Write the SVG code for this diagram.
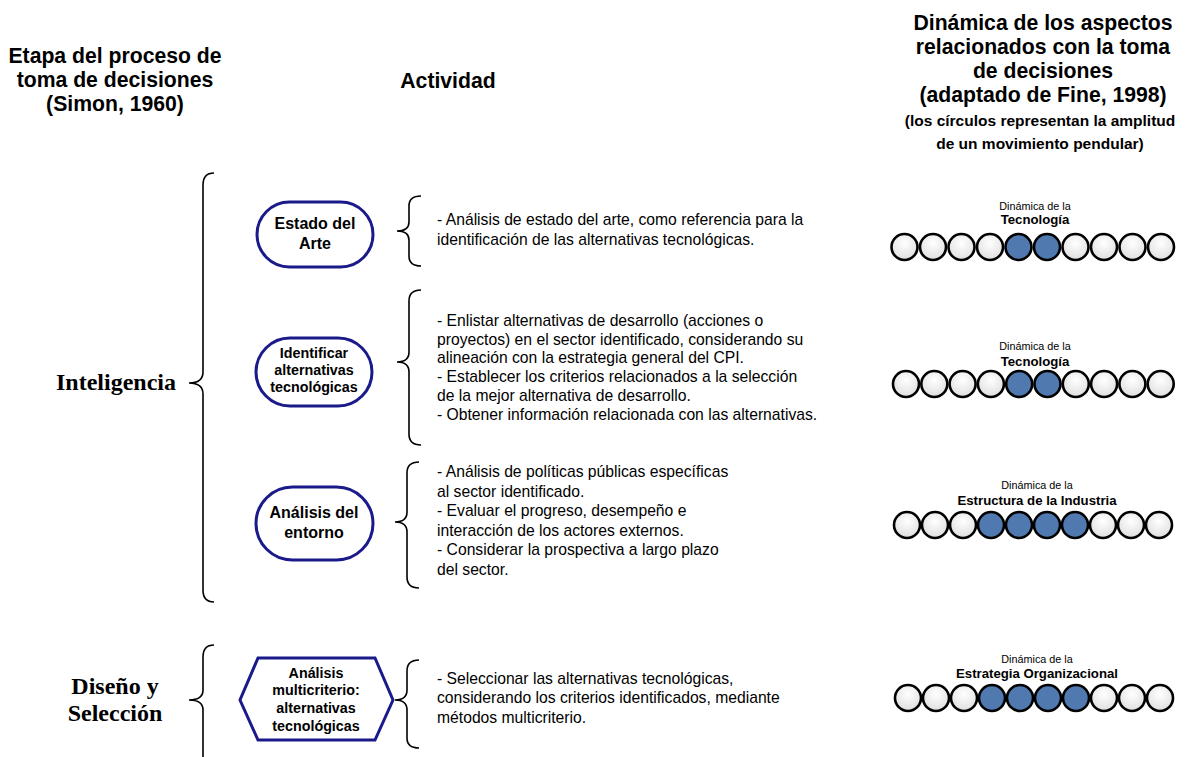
<svg xmlns="http://www.w3.org/2000/svg" width="1187" height="757" viewBox="0 0 1187 757">
<style>
.hdr{font-family:"Liberation Sans",Arial,sans-serif;font-weight:bold;font-size:21.2px;text-anchor:middle;fill:#000}
.hdr2{font-family:"Liberation Sans",Arial,sans-serif;font-weight:bold;font-size:15.5px;text-anchor:middle;fill:#000}
.stage{font-family:"Liberation Serif","Times New Roman",serif;font-weight:bold;font-size:24px;text-anchor:middle;fill:#000}
.nt{font-family:"Liberation Sans",Arial,sans-serif;font-weight:bold;font-size:16px;text-anchor:middle;fill:#000}
.nts{font-family:"Liberation Sans",Arial,sans-serif;font-weight:bold;font-size:14.3px;text-anchor:middle;fill:#000}
.act{font-family:"Liberation Sans",Arial,sans-serif;font-size:15.7px;fill:#000}
.dl{font-family:"Liberation Sans",Arial,sans-serif;font-size:10.8px;text-anchor:middle;fill:#000}
.db{font-family:"Liberation Sans",Arial,sans-serif;font-weight:bold;font-size:13.2px;text-anchor:middle;fill:#000}
.node{fill:#fff;stroke:#1a1a8a;stroke-width:3}
.brace{fill:none;stroke:#000;stroke-width:1.6}
.c{fill:url(#g);stroke:#000;stroke-width:2.6}
.f{fill:#5079b0;stroke:#000;stroke-width:2.6}
</style>
<defs>
<radialGradient id="g" cx="0.5" cy="0.35" r="0.7">
<stop offset="0" stop-color="#ffffff"/>
<stop offset="1" stop-color="#dcdcdc"/>
</radialGradient>
</defs>
<rect width="1187" height="757" fill="#fff"/>

<g id="headers">
<text class="hdr" x="115" y="63">Etapa del proceso de</text>
<text class="hdr" x="115" y="87">toma de decisiones</text>
<text class="hdr" x="115" y="111">(Simon, 1960)</text>
<text class="hdr" x="448" y="88">Actividad</text>
<text class="hdr" x="1043" y="30">Dinámica de los aspectos</text>
<text class="hdr" x="1043" y="54">relacionados con la toma</text>
<text class="hdr" x="1043" y="78">de decisiones</text>
<text class="hdr" x="1043" y="102">(adaptado de Fine, 1998)</text>
<text class="hdr2" x="1040" y="126">(los círculos representan la amplitud</text>
<text class="hdr2" x="1040" y="149">de un movimiento pendular)</text>
</g>

<g id="stage-inteligencia">
<text class="stage" x="116" y="390">Inteligencia</text>
</g>
<g id="stage-diseno">
<text class="stage" x="115" y="694">Diseño y</text>
<text class="stage" x="115" y="721">Selección</text>
</g>

<g id="connectors">
<path class="brace" d="M214,173 Q203,173 203,185 L203,372 Q203,383 189,383 Q203,383 203,394 L203,590 Q203,602 214,602"/>
<path class="brace" d="M214,645 Q203,645 203,657 L203,690 Q203,700 189,700 Q203,700 203,710 L203,757"/>
<path class="brace" d="M421,196 Q409,196 409,206 L409,222 Q409,231 397,231 Q409,231 409,240 L409,256 Q409,266 421,266"/>
<path class="brace" d="M421,290 Q409,290 409,301 L409,352 Q409,362 397,362 Q409,362 409,372 L409,434 Q409,445 421,445"/>
<path class="brace" d="M419,462 Q407,462 407,473 L407,512 Q407,522 395,522 Q407,522 407,532 L407,577 Q407,588 419,588"/>
<path class="brace" d="M419,660 Q407,660 407,671 L407,690 Q407,700 395,700 Q407,700 407,710 L407,738 Q407,748 419,748"/>
</g>

<g id="node-estado">
<rect class="node" x="257" y="202" width="116" height="65" rx="32.5"/>
<text class="nt" x="315" y="229">Estado del</text>
<text class="nt" x="315" y="249">Arte</text>
</g>
<g id="node-identificar">
<rect class="node" x="256" y="338" width="116" height="68" rx="34"/>
<text class="nts" x="314" y="358">Identificar</text>
<text class="nts" x="314" y="375">alternativas</text>
<text class="nts" x="314" y="392">tecnológicas</text>
</g>
<g id="node-entorno">
<rect class="node" x="256" y="487" width="117" height="73" rx="36.5"/>
<text class="nt" x="314" y="518">Análisis del</text>
<text class="nt" x="314" y="538">entorno</text>
</g>
<g id="node-multicriterio">
<polygon class="node" points="258,658 375,658 393,700 375,740 258,740 240,700"/>
<text class="nts" x="316" y="678">Análisis</text>
<text class="nts" x="316" y="695">multicriterio:</text>
<text class="nts" x="316" y="713">alternativas</text>
<text class="nts" x="316" y="731">tecnológicas</text>
</g>

<g id="activity-1">
<text class="act" x="437" y="225">- Análisis de estado del arte, como referencia para la</text>
<text class="act" x="437" y="245">identificación de las alternativas tecnológicas.</text>
</g>
<g id="activity-2">
<text class="act" x="437" y="326">- Enlistar alternativas de desarrollo (acciones o</text>
<text class="act" x="437" y="345">proyectos) en el sector identificado, considerando su</text>
<text class="act" x="437" y="363">alineación con la estrategia general del CPI.</text>
<text class="act" x="437" y="382">- Establecer los criterios relacionados a la selección</text>
<text class="act" x="437" y="401">de la mejor alternativa de desarrollo.</text>
<text class="act" x="437" y="420">- Obtener información relacionada con las alternativas.</text>
</g>
<g id="activity-3">
<text class="act" x="437" y="477">- Análisis de políticas públicas específicas</text>
<text class="act" x="437" y="497">al sector identificado.</text>
<text class="act" x="437" y="516">- Evaluar el progreso, desempeño e</text>
<text class="act" x="437" y="536">interacción de los actores externos.</text>
<text class="act" x="437" y="555">- Considerar la prospectiva a largo plazo</text>
<text class="act" x="437" y="575">del sector.</text>
</g>
<g id="activity-4">
<text class="act" x="437" y="684">- Seleccionar las alternativas tecnológicas,</text>
<text class="act" x="437" y="703">considerando los criterios identificados, mediante</text>
<text class="act" x="437" y="723">métodos multicriterio.</text>
</g>

<g id="dyn-1">
<text class="dl" x="1035" y="210">Dinámica de la</text>
<text class="db" x="1035" y="224">Tecnología</text>
<circle class="c" cx="904.5" cy="247" r="13"/>
<circle class="c" cx="933" cy="247" r="13"/>
<circle class="c" cx="961.5" cy="247" r="13"/>
<circle class="c" cx="990" cy="247" r="13"/>
<circle class="f" cx="1018.5" cy="247" r="13"/>
<circle class="f" cx="1047" cy="247" r="13"/>
<circle class="c" cx="1075.5" cy="247" r="13"/>
<circle class="c" cx="1104" cy="247" r="13"/>
<circle class="c" cx="1132.5" cy="247" r="13"/>
<circle class="c" cx="1161" cy="247" r="13"/>
</g>
<g id="dyn-2">
<text class="dl" x="1035" y="350">Dinámica de la</text>
<text class="db" x="1035" y="366">Tecnología</text>
<circle class="c" cx="906" cy="384" r="13"/>
<circle class="c" cx="934.3" cy="384" r="13"/>
<circle class="c" cx="962.6" cy="384" r="13"/>
<circle class="c" cx="990.9" cy="384" r="13"/>
<circle class="f" cx="1019.2" cy="384" r="13"/>
<circle class="f" cx="1047.5" cy="384" r="13"/>
<circle class="c" cx="1075.8" cy="384" r="13"/>
<circle class="c" cx="1104.1" cy="384" r="13"/>
<circle class="c" cx="1132.4" cy="384" r="13"/>
<circle class="c" cx="1160.7" cy="384" r="13"/>
</g>
<g id="dyn-3">
<text class="dl" x="1037" y="489">Dinámica de la</text>
<text class="db" x="1037" y="505">Estructura de la Industria</text>
<circle class="c" cx="907" cy="525" r="13"/>
<circle class="c" cx="935" cy="525" r="13"/>
<circle class="c" cx="963" cy="525" r="13"/>
<circle class="f" cx="991" cy="525" r="13"/>
<circle class="f" cx="1019" cy="525" r="13"/>
<circle class="f" cx="1047" cy="525" r="13"/>
<circle class="f" cx="1075" cy="525" r="13"/>
<circle class="c" cx="1103" cy="525" r="13"/>
<circle class="c" cx="1131" cy="525" r="13"/>
<circle class="c" cx="1159" cy="525" r="13"/>
</g>
<g id="dyn-4">
<text class="dl" x="1037" y="663">Dinámica de la</text>
<text class="db" x="1037" y="678">Estrategia Organizacional</text>
<circle class="c" cx="908" cy="698" r="13"/>
<circle class="c" cx="936" cy="698" r="13"/>
<circle class="c" cx="964" cy="698" r="13"/>
<circle class="f" cx="992" cy="698" r="13"/>
<circle class="f" cx="1020" cy="698" r="13"/>
<circle class="f" cx="1048" cy="698" r="13"/>
<circle class="f" cx="1076" cy="698" r="13"/>
<circle class="c" cx="1104" cy="698" r="13"/>
<circle class="c" cx="1132" cy="698" r="13"/>
<circle class="c" cx="1160" cy="698" r="13"/>
</g>
</svg>
